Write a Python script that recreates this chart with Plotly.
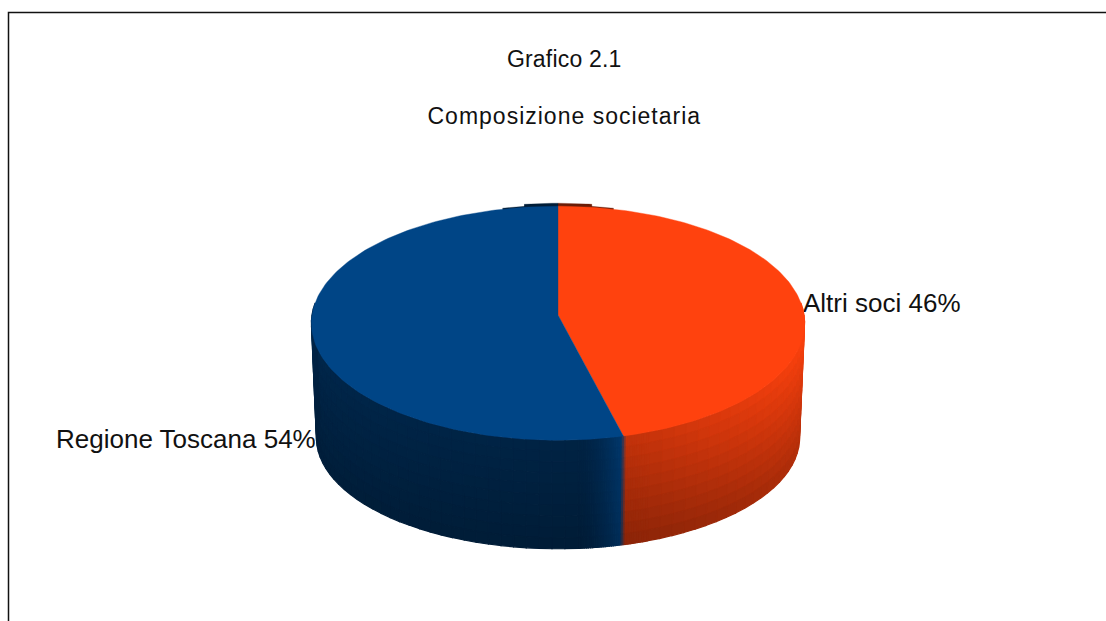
import numpy as np
import plotly.graph_objects as go

# --- data ---
categories = ["Altri soci", "Regione Toscana"]
shares = [46, 54]
top_colors = [(255, 66, 14), (0, 69, 134)]
titles = ["Grafico 2.1", "Composizione societaria"]

# --- drawing geometry (pixel-space axes) ---
W, H = 1106, 621
CX = 558.0
TOP = dict(cy=315.0, rx=246.0, ry=117.0)
BOT = dict(cy=430.0, rx=241.0, ry=111.0)
K = 0.07


def rim(t_deg, g):
    t = np.radians(t_deg)
    p = 1 - K * np.cos(t)
    return CX + g["rx"] * np.sin(t) * p, g["cy"] - g["ry"] * np.cos(t) * p


def shade(i, u, v):
    """Side-wall light factor: i=slice, u=0..1 along the slice, v=0..1 down the wall."""
    if i == 0:
        a = 1.0 - 0.24 * u ** 1.8
        b = 0.74 - 0.20 * u
        return a + (b - a) * v
    near = np.clip(1 - u / 0.09, 0, 1)
    a = 0.50 + 0.34 * near ** 1.6 + 0.07 * u
    b = 0.40 + 0.28 * near ** 1.6 + 0.04 * u
    return a + (b - a) * v


def wall_color(i, u, v, seam_px):
    f = shade(i, u, v)
    c = np.array(top_colors[i], float) * f
    w = 0.5 * max(0.0, 1 - seam_px / 2.5)
    if w > 0:
        other = np.array(top_colors[1 - i], float) * shade(1 - i, 0.0 if i == 0 else 1.0, v)
        c = c * (1 - w) + other * w
    return "rgb(%d,%d,%d)" % tuple(int(round(min(255, x))) for x in c)


def rgb(c, f):
    return "rgb(%d,%d,%d)" % tuple(min(255, int(round(x * f))) for x in c)


def poly(xs, ys, color, line=1.2):
    return go.Scatter(x=xs, y=ys, mode="lines", fill="toself", fillcolor=color,
                      line=dict(color=color, width=line), hoverinfo="skip",
                      showlegend=False)


fig = go.Figure()

# labels lie beneath the pie
pct = [round(100 * s / sum(shares)) for s in shares]
label_pos = [(803, 305), (56, 441)]
for name, p, (lx, ly) in zip(categories, pct, label_pos):
    fig.add_trace(go.Scatter(x=[lx], y=[ly], mode="text", text=[f"{name} {p}%"],
                             textposition="middle right", hoverinfo="skip",
                             textfont=dict(family="Liberation Sans", size=26, color="#111111"),
                             showlegend=False))

# slice angles, clockwise from twelve o'clock
edges = np.concatenate([[0], np.cumsum(shares) / sum(shares) * 360])
seam = edges[1]

# sliver of the back wall peeking over the rim
for i, (a, b, lift) in enumerate([(0, 14, 1.0), (346, 360, 1.0), (0, 8.5, 3.0), (351.5, 360, 3.0)]):
    ts = np.linspace(a, b, 12)
    x, y = rim(ts, TOP)
    xs = np.concatenate([x, x[::-1]])
    ys = np.concatenate([y - lift, y[::-1] + 2])
    fig.add_trace(poly(xs, ys, rgb(top_colors[i % 2], 0.42), line=0.3))

# side wall: finer columns near the seam between the slices
ROWS = 10
col_edges = [
    np.concatenate([np.linspace(84, seam - 6, 26), np.linspace(seam - 6, seam, 16)[1:]]),
    np.concatenate([np.linspace(seam, seam + 10, 22), np.linspace(seam + 10, 276, 36)[1:]]),
]
for i in range(2):
    ts = col_edges[i]
    a, b = edges[i] if i == 1 else 84.0, ts[-1]
    for j in range(len(ts) - 1):
        t0, t1 = ts[j], ts[j + 1]
        tm = 0.5 * (t0 + t1)
        u = (tm - a) / (b - a)
        seam_px = abs(rim(tm, TOP)[0] - rim(seam, TOP)[0])
        x0t, y0t = rim(t0, TOP)
        x1t, y1t = rim(t1, TOP)
        x0b, y0b = rim(t0, BOT)
        x1b, y1b = rim(t1, BOT)
        for r in range(ROWS):
            v0, v1 = r / ROWS, (r + 1) / ROWS
            xs = [x0t + (x0b - x0t) * v0, x1t + (x1b - x1t) * v0,
                  x1t + (x1b - x1t) * v1, x0t + (x0b - x0t) * v1]
            ys = [y0t + (y0b - y0t) * v0, y1t + (y1b - y1t) * v0,
                  y1t + (y1b - y1t) * v1, y0t + (y0b - y0t) * v1]
            fig.add_trace(poly(xs + xs[:1], ys + ys[:1],
                               wall_color(i, u, (v0 + v1) / 2, seam_px)))

# top faces
for i in range(2):
    ts = np.linspace(edges[i], edges[i + 1], 160)
    x, y = rim(ts, TOP)
    fig.add_trace(poly(np.concatenate([[CX], x, [CX]]),
                       np.concatenate([[TOP["cy"]], y, [TOP["cy"]]]),
                       rgb(top_colors[i], 1.0), line=0.4))

annotations = [
    dict(x=564.5, y=y, xref="x", yref="y", text=t, showarrow=False,
         font=dict(family="Liberation Sans", size=23, color="#111111"))
    for t, y in zip(titles, [59, 115.5])
]

fig.update_layout(
    width=W, height=H, margin=dict(l=0, r=0, t=0, b=0),
    paper_bgcolor="white", plot_bgcolor="white", showlegend=False,
    xaxis=dict(range=[0, W], visible=False, fixedrange=True),
    yaxis=dict(range=[H, 0], visible=False, fixedrange=True),
    annotations=annotations,
    shapes=[dict(type="path", path=f"M 8.5 {H} L 8.5 12.5 L {W} 12.5",
                 line=dict(color="#111111", width=1.5), xref="x", yref="y")],
)

fig.write_html(
    "out.html", config=dict(displayModeBar=False),
    post_script=(
        "document.body.style.margin='0';document.body.style.overflow='hidden';"
        "document.querySelectorAll('.annotation-text').forEach(function(e,i){"
        "e.style.letterSpacing=(i==0?'0.2px':'1px');});"
    ),
)
